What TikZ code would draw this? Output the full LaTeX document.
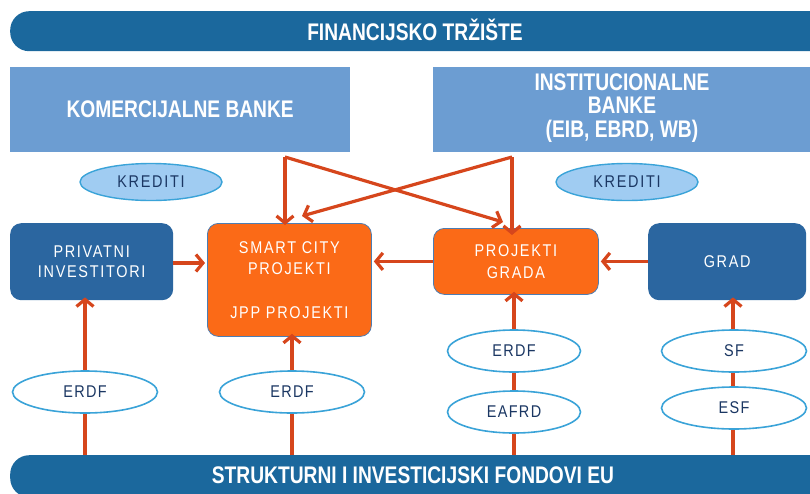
\documentclass[tikz,border=0pt]{standalone}
\usepackage{fontspec}
\setmainfont{Liberation Sans}
\newfontfamily\hdrfont[FakeStretch=0.8]{Liberation Sans}
\newfontfamily\boxfont[FakeStretch=0.85,LetterSpace=10]{Liberation Sans}
\newfontfamily\ellfont[FakeStretch=0.85,LetterSpace=8]{Liberation Sans}
\usetikzlibrary{arrows.meta,shapes.geometric}
\definecolor{barblue}{HTML}{1B689D}
\definecolor{lightbank}{HTML}{6C9DD2}
\definecolor{darkbox}{HTML}{2B66A0}
\definecolor{orangebox}{HTML}{FB6A17}
\definecolor{orangeedge}{HTML}{4C7DB3}
\definecolor{arrowred}{HTML}{D6461C}
\definecolor{ellborder}{HTML}{3AA3D8}
\definecolor{kredfill}{HTML}{A0CCF2}
\definecolor{elltext}{HTML}{1B3763}
\tikzset{
  barshape/.style={fill=barblue, rounded corners=19pt, inner sep=0, anchor=north west},
  bartext/.style={text=white, font=\hdrfont\bfseries\fontsize{24}{26}\selectfont, inner sep=0},
  bankbox/.style={fill=lightbank, inner sep=0, anchor=north west, text=white, align=center,
    font=\hdrfont\bfseries\fontsize{24}{24}\selectfont},
  darkbx/.style={fill=darkbox, rounded corners=11pt, inner sep=0, anchor=north west, text=white,
    align=center, font=\boxfont\fontsize{17}{20}\selectfont},
  orangebx/.style={fill=orangebox, draw=orangeedge, line width=0.8pt, rounded corners=11pt, inner sep=0,
    anchor=north west, text=white, align=center, font=\boxfont\fontsize{17}{21.7}\selectfont},
  fundell/.style={ellipse, draw=ellborder, line width=1.6pt, fill=white, inner sep=0,
    minimum width=145pt, minimum height=42pt, text=elltext, font=\ellfont\fontsize{17}{17}\selectfont},
  kredell/.style={ellipse, draw=ellborder, line width=1.4pt, fill=kredfill, inner sep=0,
    minimum width=142pt, minimum height=37pt, text=elltext, font=\boxfont\fontsize{17}{17}\selectfont},
  arr/.style={draw=arrowred, line width=3.2pt, -{Straight Barb[length=7pt,width=17pt]}},
}
\begin{document}
\begin{tikzpicture}[x=1pt,y=-1pt]
\useasboundingbox (0,0) rectangle (810,493);
\clip (0,0) rectangle (810,493);
% bars
\node[barshape, minimum width=840pt, minimum height=40pt] (fin) at (10,11) {};
\node[bartext] (finT) at (415,30) {FINANCIJSKO TRŽIŠTE};
\node[barshape, minimum width=840pt, minimum height=42pt] (eu) at (10,455) {};
\node[bartext] (euT) at (413,475) {STRUKTURNI I INVESTICIJSKI FONDOVI EU};
% banks
\node[bankbox, minimum width=340pt, minimum height=85pt] (kb) at (10,67) {KOMERCIJALNE BANKE};
\node[bankbox, minimum width=380pt, minimum height=85pt] (ib) at (433,67) {};
\node[text=white, align=center, inner sep=0, font=\hdrfont\bfseries\fontsize{24}{23.5}\selectfont] (ibT) at (622,108) {INSTITUCIONALNE\\BANKE\\(EIB, EBRD, WB)};
% boxes
\node[darkbx, minimum width=163pt, minimum height=77pt] (pi) at (10,223) {PRIVATNI\\INVESTITORI};
\node[orangebx, minimum width=164pt, minimum height=113pt] (sc) at (207,223) {SMART CITY\\PROJEKTI\\[21.7pt]JPP PROJEKTI};
\node[orangebx, minimum width=165pt, minimum height=66pt] (pg) at (433,228) {PROJEKTI\\GRADA};
\node[darkbx, minimum width=158pt, minimum height=77pt] (gr) at (648,223) {GRAD};
% coordinates
\coordinate (k1) at (285,157);
\coordinate (i1) at (512,157);
\coordinate (scT) at (302,216);
\coordinate (pgT) at (503,222);
\coordinate (x1) at (85,0);
\coordinate (x2) at (292,0);
\coordinate (x3) at (514,0);
\coordinate (x4) at (733,0);
% connectors
\draw[arr] (k1) -- ([yshift=-2pt]k1 |- sc.north);
\draw[arr] (k1) -- (pgT);
\draw[arr] (i1) -- ([yshift=-7pt]i1 |- pg.north);
\draw[arr] (i1) -- (scT);
\draw[arr] (pi.east |- 0,263) -- ([xshift=-2pt]sc.west |- 0,263);
\draw[arr] (pg.west) -- ([xshift=2pt]pg.west -| sc.east);
\draw[arr] (gr.west |- pg.west) -- ([xshift=2pt]pg.east);
\draw[arr] (x1 |- eu.north) -- ([yshift=3pt]x1 |- pi.south);
\draw[arr] (x2 |- eu.north) -- ([yshift=3pt]x2 |- sc.south);
\draw[arr] (x3 |- eu.north) -- ([yshift=3pt]x3 |- pg.south);
\draw[arr] (x4 |- eu.north) -- ([yshift=3pt]x4 |- gr.south);
% ellipses
\node[kredell] (kr1) at (151,182) {KREDITI};
\node[kredell] (kr2) at (627,182) {KREDITI};
\node[fundell] (e1) at (85,392) {ERDF};
\node[fundell] (e2) at (292,392) {ERDF};
\node[fundell, minimum width=133pt] (e3) at (514,351) {ERDF};
\node[fundell, minimum width=133pt] (e4) at (514,412) {EAFRD};
\node[fundell] (e5) at (734,351) {SF};
\node[fundell] (e6) at (734,408) {ESF};
\end{tikzpicture}
\end{document}
